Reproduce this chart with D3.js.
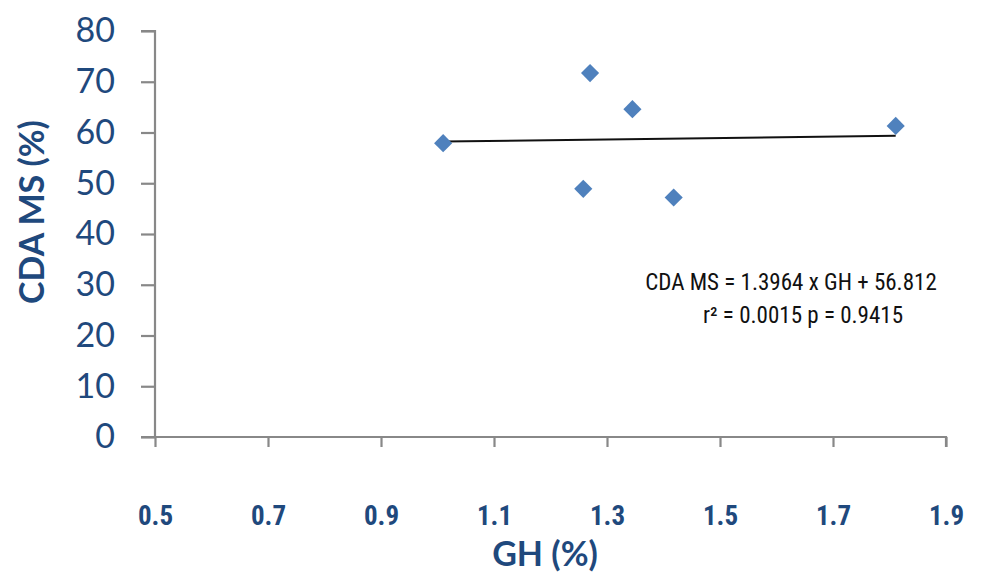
<!DOCTYPE html>
<html><head><meta charset="utf-8">
<script src="https://cdn.jsdelivr.net/npm/d3@7"></script>
<style>body{margin:0;background:#fff;}svg{display:block;}</style>
</head><body>
<svg id="c" width="992" height="576"></svg>
<script>
const ghValues = [1.01, 1.27, 1.345, 1.258, 1.418, 1.811];
const cdaValues = [57.9, 71.7, 64.6, 48.9, 47.2, 61.3];
const xTicks = [0.5, 0.7, 0.9, 1.1, 1.3, 1.5, 1.7, 1.9];
const yTicks = [0, 10, 20, 30, 40, 50, 60, 70, 80];
const slope = 1.3964, intercept = 56.812;
const eqLines = ["CDA MS = 1.3964 x GH + 56.812", "r\u00B2 = 0.0015  p = 0.9415"];

const svg = d3.select("#c");
const blue = "#1F497D";
const x = d3.scaleLinear().domain([0.5, 1.9]).range([155, 946]);
const y = d3.scaleLinear().domain([0, 80]).range([437, 31]);

const xa = svg.append("g").attr("transform", "translate(0,437)")
  .call(d3.axisBottom(x).tickValues(xTicks).tickSize(10).tickPadding(70).tickFormat(d3.format(".1f")));
xa.selectAll("text").attr("font-family", "'Roboto Condensed',Lato,sans-serif")
  .attr("font-weight", "bold").attr("font-size", 27).attr("fill", blue).attr("dy", "0.3em");
const ya = svg.append("g").attr("transform", "translate(155,0)")
  .call(d3.axisLeft(y).tickValues(yTicks).tickSize(14).tickPadding(26));
ya.selectAll("text").attr("font-family", "Lato,'Open Sans',sans-serif")
  .attr("font-size", 34).attr("fill", blue);
svg.selectAll(".domain").attr("stroke", "#888").attr("stroke-width", 2.2);
svg.selectAll(".tick line").attr("stroke", "#888").attr("stroke-width", 2.2);
ya.select(".domain").attr("d", "M-14,31H0V437");
xa.select(".domain").attr("d", "M141,0H946V10");

// trend line
const x0 = d3.min(ghValues), x1 = d3.max(ghValues);
svg.append("line")
  .attr("x1", x(x0)).attr("y1", y(intercept + slope * x0))
  .attr("x2", x(x1)).attr("y2", y(intercept + slope * x1))
  .attr("stroke", "#111").attr("stroke-width", 2);

// points
svg.append("g").selectAll("path").data(ghValues.map((g, i) => [g, cdaValues[i]]))
  .join("path")
  .attr("d", d3.symbol().type(d3.symbolDiamond2).size(210))
  .attr("transform", d => `translate(${x(d[0])},${y(d[1])})`)
  .attr("fill", "#4F81BD");

// equation
svg.append("g").selectAll("text").data(eqLines).join("text")
  .attr("x", (d, i) => i === 0 ? 791 : 803)
  .attr("y", (d, i) => 290 + i * 33)
  .attr("text-anchor", "middle")
  .attr("font-family", "'Roboto Condensed',Lato,sans-serif")
  .attr("font-size", 23).attr("font-weight", 400).attr("fill", "#111")
  .text(d => d);

// axis titles
svg.append("text").attr("x", 545).attr("y", 566).attr("text-anchor", "middle")
  .attr("font-family", "Lato,'Open Sans',sans-serif")
  .attr("font-weight", "bold").attr("font-size", 34).attr("fill", blue).text("GH (%)");
svg.append("text").attr("transform", "translate(44,212) rotate(-90)").attr("text-anchor", "middle")
  .attr("font-family", "Lato,'Open Sans',sans-serif")
  .attr("font-weight", "bold").attr("font-size", 34).attr("fill", blue).text("CDA MS (%)");
</script>
</body></html>
